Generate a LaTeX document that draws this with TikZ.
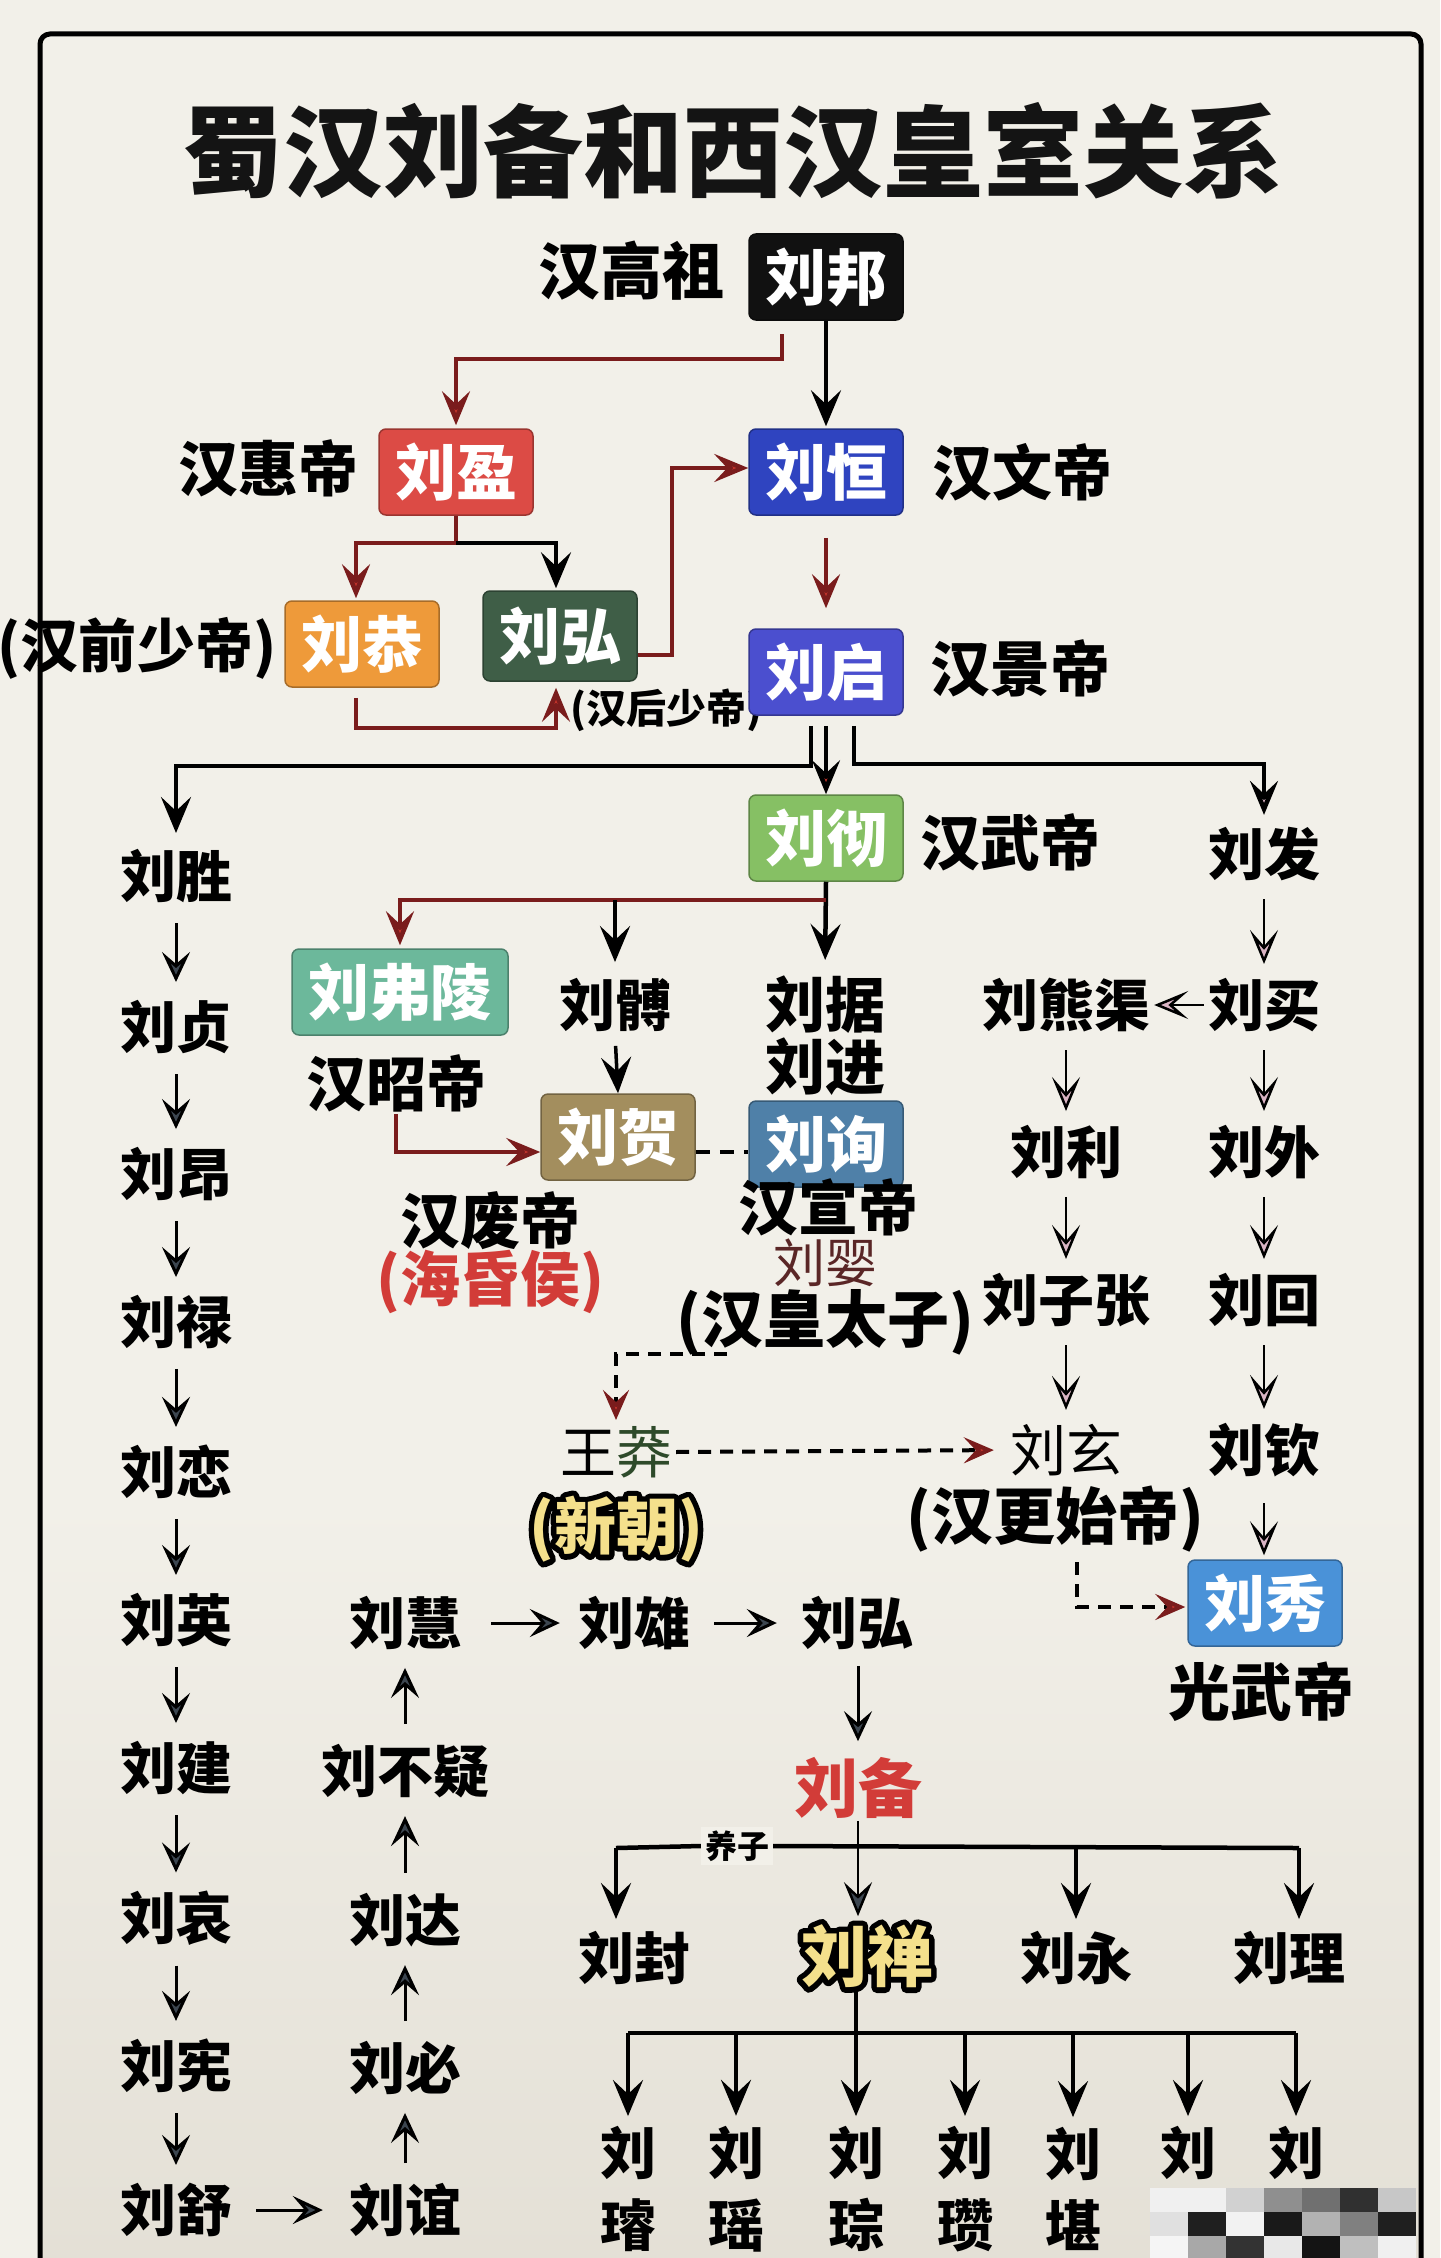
\documentclass[tikz,border=0pt]{standalone}
\usepackage{fontspec}
\setmainfont{Noto Sans CJK SC}
\usetikzlibrary{arrows.meta}
\definecolor{bg}{HTML}{F2F0E9}
\definecolor{bgdark}{HTML}{E4E0D6}
\definecolor{lnred}{HTML}{7A1C1C}
\definecolor{tipred}{HTML}{C8352C}
\definecolor{tippink}{HTML}{D9B3C3}
\definecolor{tipgray}{HTML}{3C4650}
\definecolor{cbang}{HTML}{111111}
\definecolor{cying}{HTML}{DC4B45}
\definecolor{cheng}{HTML}{2F44C0}
\definecolor{cgong}{HTML}{EE9A3A}
\definecolor{chong}{HTML}{3F5E47}
\definecolor{cqi}{HTML}{4B4FCF}
\definecolor{cche}{HTML}{86C064}
\definecolor{cfuling}{HTML}{6CB89B}
\definecolor{che}{HTML}{A38E5E}
\definecolor{cxun}{HTML}{4F80A8}
\definecolor{cxiu}{HTML}{4A92D8}
\definecolor{yel}{HTML}{F4E08C}
\definecolor{redtxt}{HTML}{D23C38}
\definecolor{yingred}{HTML}{5A2626}
\definecolor{mangg}{HTML}{2E4A2A}
% outlined text: black stroke layer under a coloured fill layer
\newcommand\olt[2]{\rlap{\textcolor{black}{\special{pdf:literal direct 1 Tr 11 w 1 j}#2\special{pdf:literal direct 0 Tr 1 w 0 j}}}\textcolor{#1}{#2}}
\begin{document}
\begin{tikzpicture}[x=1pt,y=-1pt,
  cbox/.style={rounded corners=7pt, minimum width=154pt, minimum height=86pt, inner sep=0pt, text=white,
    font=\bfseries\fontsize{61}{63}\selectfont, fill=#1, draw=#1!70!black, line width=1.5pt},
  lbl/.style={font=\bfseries\fontsize{60}{62}\selectfont, inner sep=2pt},
  nm/.style={font=\bfseries\fontsize{56}{58}\selectfont, inner sep=2pt},
  thn/.style={font=\fontsize{56}{58}\selectfont, inner sep=2pt},
  thk/.style={line width=4.5pt, draw=black},
  thkr/.style={line width=4.5pt, draw=lnred},
  blk/.style={line width=4.5pt, draw=black, -{Stealth[length=36pt,width=30pt,inset=14pt]}},
  bkred/.style={line width=4.5pt, draw=black, -{Stealth[length=34pt,width=28pt,inset=13pt,fill=tipred]}},
  bkpink/.style={line width=4.5pt, draw=black, -{Stealth[length=34pt,width=28pt,inset=13pt,fill=tippink]}},
  rln/.style={line width=4.5pt, draw=lnred, -{Stealth[length=34pt,width=28pt,inset=13pt,fill=tipred]}},
  dsh/.style={line width=4pt, draw=black, dash pattern=on 13pt off 9pt, -{Stealth[length=30pt,width=26pt,inset=12pt,color=lnred,fill=tipred]}},
  rtarr/.style={line width=2.5pt, draw=black, -{Stealth[length=34pt,width=28pt,inset=16pt,fill=tippink]}, shorten <=16pt, shorten >=12pt},
  lfarr/.style={line width=3pt, draw=black, -{Stealth[length=30pt,width=28pt,inset=12pt,fill=tipgray]}, shorten <=18pt, shorten >=16pt}
]
\useasboundingbox (0,0) rectangle (1440,2258);
% background and frame
\fill[bg] (0,0) rectangle (1440,2258);
\shade[top color=bg, bottom color=bgdark] (42,1500) rectangle (1420,2258);
\draw[line width=5pt, rounded corners=10pt] (40,2270) -- (40,34) -- (1421,34) -- (1421,2270);

% title
\node[font=\bfseries\fontsize{100}{104}\selectfont, text=black!92] (title) at (733,151) {蜀汉刘备和西汉皇室关系};

% emperors and boxes
\node[lbl, font=\bfseries\fontsize{62}{64}\selectfont] (gaozu) at (631,271) {汉高祖};
\node[cbox=cbang] (bang) at (826,277) {刘邦};
\node[cbox=cying] (ying) at (456,472) {刘盈};
\node[lbl] (huidi) at (268,468) {汉惠帝};
\node[cbox=cheng] (heng) at (826,472) {刘恒};
\node[lbl] (wendi) at (1022,472) {汉文帝};
\node[cbox=cgong] (gong) at (362,644) {刘恭};
\node[lbl, font=\bfseries\fontsize{58}{60}\selectfont] (qianshao) at (137,648) {(汉前少帝)};
\node[cbox=chong, minimum height=90pt] (hong) at (560,636) {刘弘};
\node[font=\bfseries\fontsize{40}{42}\selectfont, inner sep=1pt] (houshao) at (666,710) {(汉后少帝)};
\node[cbox=cqi] (qi) at (826,672) {刘启};
\node[lbl] (jingdi) at (1020,668) {汉景帝};
\node[cbox=cche] (che) at (826,838) {刘彻};
\node[lbl] (wudi) at (1010,842) {汉武帝};

% Wu di's sons
\node[cbox=cfuling, minimum width=216pt] (fuling) at (400,992) {刘弗陵};
\node[lbl] (zhaodi) at (396,1083) {汉昭帝};
\node[nm] (bo) at (615,1005) {刘髆};
\node[lbl] (ju) at (825,1005) {刘据};
\node[lbl] (jin) at (825,1067) {刘进};
\node[cbox=che] (he) at (618,1137) {刘贺};
\node[cbox=cxun] (xun) at (826,1144) {刘询};
\node[lbl] (feidi) at (490,1221) {汉废帝};
\node[lbl, text=redtxt] (haihun) at (490,1282) {(海昏侯)};
\node[thn, font=\fontsize{52}{54}\selectfont, text=yingred] (ying2) at (825,1263) {刘婴};
\node[lbl] (xuandi) at (828,1207) {汉宣帝};
\node[lbl, font=\bfseries\fontsize{62}{64}\selectfont] (taizi) at (825,1322) {(汉皇太子)};

% right branch
\node[nm] (fa) at (1264,854) {刘发};
\node[nm] (mai) at (1264,1005) {刘买};
\node[nm] (xiongqu) at (1066,1005) {刘熊渠};
\node[nm] (li) at (1066,1152) {刘利};
\node[nm] (wai) at (1264,1152) {刘外};
\node[nm] (zizhang) at (1066,1300) {刘子张};
\node[nm] (hui) at (1264,1300) {刘回};
\node[thn] (xuan) at (1066,1450) {刘玄};
\node[nm] (qin) at (1264,1450) {刘钦};
\node[lbl, font=\bfseries\fontsize{62}{64}\selectfont] (gengshi) at (1055,1519) {(汉更始帝)};
\node[cbox=cxiu] (xiu) at (1265,1603) {刘秀};
\node[lbl, font=\bfseries\fontsize{62}{64}\selectfont] (guangwu) at (1261,1692) {光武帝};

% Wang Mang
\node[thn] (mang) at (616,1452) {王\textcolor{mangg}{莽}};
\node[font=\bfseries\fontsize{62}{64}\selectfont, inner sep=6pt] (xinchao) at (616,1529) {\olt{yel}{(新朝)}};

% left column
\node[nm] (sheng) at (176,876) {刘胜};
\node[nm] (zhen) at (176,1027) {刘贞};
\node[nm] (ang) at (176,1174) {刘昂};
\node[nm] (lu) at (176,1322) {刘禄};
\node[nm] (lian) at (176,1472) {刘恋};
\node[nm] (yingl) at (176,1620) {刘英};
\node[nm] (jian) at (176,1768) {刘建};
\node[nm] (ai) at (176,1918) {刘哀};
\node[nm] (xian) at (176,2066) {刘宪};
\node[nm] (shu) at (176,2210) {刘舒};
% second column
\node[nm] (huiz) at (405,1623) {刘慧};
\node[nm] (buyi) at (405,1771) {刘不疑};
\node[nm] (da) at (405,1920) {刘达};
\node[nm] (bi) at (405,2068) {刘必};
\node[nm] (yi) at (405,2210) {刘谊};
\node[nm] (xiong) at (634,1623) {刘雄};
\node[nm] (hong2) at (857,1623) {刘弘};

% Liu Bei and sons
\node[font=\bfseries\fontsize{64}{66}\selectfont, text=redtxt, inner sep=2pt] (bei) at (858,1788) {刘备};
\node[font=\bfseries\fontsize{32}{34}\selectfont, fill=bg, inner sep=4pt] (yangzi) at (737,1846) {养子};
\node[nm] (feng) at (634,1958) {刘封};
\node[font=\bfseries\fontsize{66}{68}\selectfont, inner sep=4pt] (shan) at (867,1956) {\olt{yel}{刘禅}};
\node[nm] (yong) at (1076,1958) {刘永};
\node[nm] (lii) at (1289,1958) {刘理};

% grandchildren
\node[nm, align=center, font=\bfseries\fontsize{56}{72}\selectfont] (g1) at (628,2189) {刘\\璿};
\node[nm, align=center, font=\bfseries\fontsize{56}{72}\selectfont] (g2) at (736,2189) {刘\\瑶};
\node[nm, align=center, font=\bfseries\fontsize{56}{72}\selectfont] (g3) at (856,2189) {刘\\琮};
\node[nm, align=center, font=\bfseries\fontsize{56}{72}\selectfont] (g4) at (965,2189) {刘\\瓒};
\node[nm, align=center, font=\bfseries\fontsize{56}{72}\selectfont] (g5) at (1073,2189) {刘\\堪};
\node[nm] (g6) at (1188,2153) {刘};
\node[nm] (g7) at (1296,2153) {刘};

% ---------------- connectors ----------------
% Liu Bang
\draw[blk, shorten >=2pt] (bang.south) -- (heng.north);
\coordinate (bl) at (782,334);
\draw[rln, shorten >=3pt] (bl) -- ++(0,25) -| (ying.north);
% Liu Ying
\draw[thkr] (ying.south) -- ++(0,27) coordinate (yj);
\draw[rln, shorten >=2pt] (yj) -| ([xshift=-6pt]gong.north);
\draw[blk, shorten >=2pt] (yj) -| ([xshift=-4pt]hong.north);
\draw[rln] ([yshift=-19pt]hong.east) -- ++(34,0) |- ([yshift=4pt]heng.west);
\draw[rln] ([xshift=-6pt,yshift=-10pt]gong.south) -- ++(0,30) -| ([xshift=-4pt,yshift=-6pt]hong.south);
% Liu Heng -> Liu Qi
\draw[rln, shorten <=22pt, shorten >=20pt] (heng.south) -- (qi.north);
% Liu Qi -> three
\draw[blk, shorten >=14pt] ([xshift=-15pt,yshift=-10pt]qi.south) -- ++(0,40) -| (sheng.north);
\draw[bkred] ([yshift=-10pt]qi.south) -- (che.north);
\draw[bkpink, shorten >=10pt] ([xshift=28pt,yshift=-10pt]qi.south) -- ++(0,38) -| (fa.north);
% Liu Che -> three
\draw[blk, shorten >=14pt] (che.south) -- (ju.north);
\coordinate (cj) at (826,900);
\draw[rln, shorten >=3pt] (cj) -| (fuling.north);
\draw[blk, shorten >=14pt] (cj -| bo.north) -- (bo.north);
\draw[blk, line width=3.5pt, shorten <=12pt] (bo.south) -- (he.north);
\draw[rln] (zhaodi.south) |- ([yshift=-15pt]he.west);
\draw[line width=4pt, dash pattern=on 14pt off 10pt] ([yshift=-15pt]he.east) -- ([yshift=-15pt]he.east -| xun.west);
% crown prince -> Wang Mang -> Liu Xuan -> Liu Xiu
\coordinate (tz) at (727,1354);
\draw[dsh, shorten >=4pt] (tz) -| (mang.north);
\draw[dsh, shorten <=2pt, shorten >=14pt] (mang.east) -- (xuan.west);
\draw[dsh, shorten >=2pt] ([xshift=22pt,yshift=-8pt]gengshi.south) |- ([yshift=-4pt]xiu.west);
% right branch
\draw[rtarr] (fa) -- (mai);
\draw[rtarr, shorten <=2pt, shorten >=2pt] (mai.west) -- (xiongqu.east);
\draw[rtarr] (xiongqu) -- (li);
\draw[rtarr] (li) -- (zizhang);
\draw[rtarr] (zizhang) -- (xuan);
\draw[rtarr] (mai) -- (wai);
\draw[rtarr] (wai) -- (hui);
\draw[rtarr] (hui) -- (qin);
\draw[rtarr, shorten <=24pt, shorten >=4pt] (qin.south) -- (qin.south |- xiu.north);
% left columns
\foreach \a/\b in {sheng/zhen, zhen/ang, ang/lu, lu/lian, lian/yingl, yingl/jian, jian/ai, ai/xian, xian/shu, yi/bi, bi/da, da/buyi, buyi/huiz}
  \draw[lfarr] (\a) -- (\b);
\draw[lfarr, shorten <=22pt, shorten >=24pt] (shu) -- (yi);
\draw[lfarr, shorten <=28pt, shorten >=16pt] (huiz) -- (xiong);
\draw[lfarr, shorten <=22pt, shorten >=22pt] (xiong) -- (hong2);
\draw[lfarr, shorten <=14pt, shorten >=14pt] (hong2.south -| bei.south) -- (bei.north);
% Liu Bei -> sons
\coordinate (fb1) at (616,1848);
\coordinate (fb2) at (1299,1848);
\draw[thk] (fb1) -- (yangzi.west);
\draw[thk] (yangzi.east) -- (fb2);
\draw[line width=2.5pt, -{Stealth[length=34pt,width=28pt,inset=13pt,fill=tipgray]}, shorten >=4pt] (bei.south) -- (bei.south |- shan.north);
\draw[blk, shorten >=10pt] (fb1) -- (fb1 |- feng.north);
\draw[blk, shorten >=10pt] (fb1 -| yong.north) -- (yong.north);
\draw[blk, shorten >=10pt] (fb2) -- (fb2 |- lii.north);
% Liu Shan -> sons
\coordinate (gb1) at (628,2033);
\coordinate (gb2) at (1296,2033);
\draw[thk] (gb1) -- (gb2);
\draw[thk] (shan.south -| g3.north) -- (gb1 -| g3.north);
\foreach \g in {g1,g2,g3,g4,g5,g6,g7}
  \draw[blk, shorten >=8pt] (gb1 -| \g.north) -- (\g.north);

% mosaic
\foreach \c [count=\i from 0] in {6,6,18,44,56,81,22}
  \fill[black!\c] ({1150+38*\i},2188) rectangle ++(38,24);
\foreach \c [count=\i from 0] in {12,88,5,90,30,50,88}
  \fill[black!\c] ({1150+38*\i},2212) rectangle ++(38,24);
\foreach \c [count=\i from 0] in {4,34,80,9,92,25,6}
  \fill[black!\c] ({1150+38*\i},2236) rectangle ++(38,24);
\end{tikzpicture}
\end{document}
